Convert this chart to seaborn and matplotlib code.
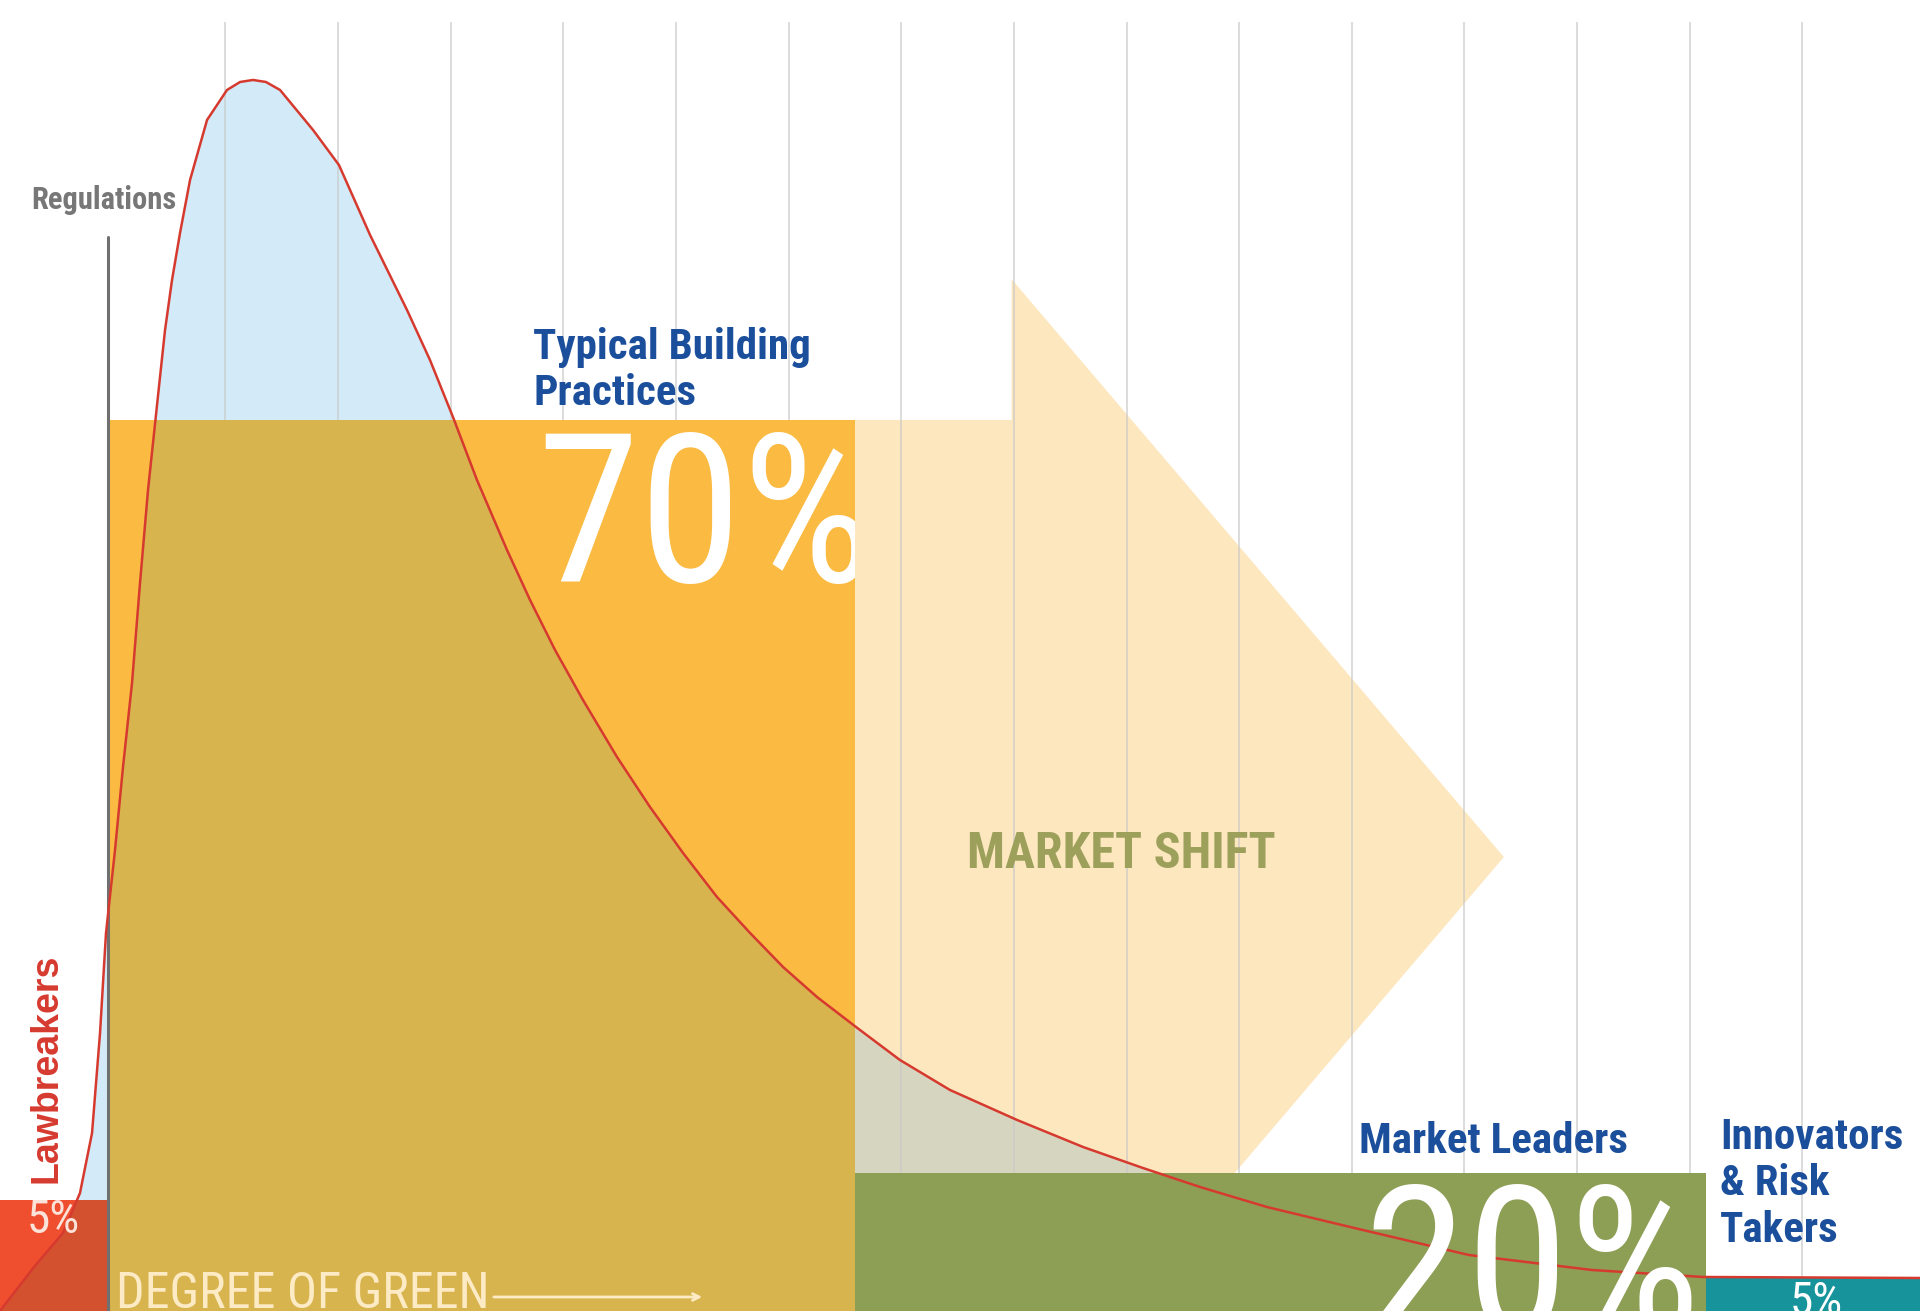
import matplotlib
matplotlib.use("Agg")
import matplotlib.pyplot as plt
from matplotlib.patches import Polygon
import pandas as pd
import seaborn as sns

# one grid column = 112.65 px on the 1920x1311 canvas; y uses the same unit
PX = 112.65
W, H = 1920, 1311

# distribution curve (grid units)
curve_x = [0.000, 0.302, 0.559, 0.710, 0.817, 0.888, 0.941, 1.021, 1.092, 1.172,
           1.243, 1.314, 1.394, 1.465, 1.527, 1.598, 1.687, 1.838, 2.015, 2.131,
           2.246, 2.361, 2.486, 2.779, 3.009, 3.285, 3.613, 3.817, 4.021, 4.234,
           4.501, 4.705, 4.927, 5.175, 5.477, 5.770, 6.063, 6.365, 6.658, 6.951,
           7.253, 7.599, 7.989, 8.433, 9.028, 9.614, 10.147, 10.652, 11.247,
           11.984, 13.040, 14.132, 15.118, 17.044]
curve_y = [0.000, 0.391, 0.692, 1.047, 1.580, 2.468, 3.356, 4.092, 4.829, 5.575,
           6.463, 7.288, 8.043, 8.708, 9.152, 9.569, 10.040, 10.573, 10.839, 10.910,
           10.928, 10.910, 10.839, 10.484, 10.173, 9.552, 8.886, 8.442, 7.936, 7.377,
           6.755, 6.312, 5.868, 5.424, 4.918, 4.474, 4.066, 3.675, 3.356, 3.054,
           2.787, 2.521, 2.228, 1.962, 1.696, 1.456, 1.269, 1.101, 0.923,
           0.746, 0.497, 0.364, 0.302, 0.293]

# market segments
groups = ["Lawbreakers", "Typical Building Practices", "Market Leaders",
          "Innovators & Risk Takers"]
shares = ["5%", "70%", "20%", "5%"]
bar_left = [0.0, 0.96, 7.59, 15.14]
bar_width = [0.96, 6.63, 7.55, 1.90]
bar_height = [0.985, 7.91, 1.225, 0.29]
bar_colors = ["#f04f2f", "#fbba42", "#8d9e55", "#17949b"]
under_colors = ["#d4512f", "#d8b44e", "#8d9e55", "#17949b"]

grid_x = list(range(2, 17))
regulation_x = 0.96
regulation_top = 9.53

# market shift arrow: shaft top/bottom, head top, tip
shift_x = [7.0, 8.98, 13.35]
shift_y = [7.91, 0.15, 9.16, 4.03]


def gx(px):
    return px / PX


def gy(py):
    return (H - py) / PX


sns.set_theme(style="white")
narrow = ["Roboto Condensed", "Liberation Sans Narrow", "DejaVu Sans Condensed",
          "Roboto", "DejaVu Sans"]
plt.rcParams["font.family"] = narrow
plt.rcParams["font.stretch"] = "condensed"

fig = plt.figure(figsize=(19.2, 13.11), dpi=100)
ax = fig.add_axes([0, 0, 1, 1])
ax.set_xlim(0, W / PX)
ax.set_ylim(0, H / PX)
ax.axis("off")

df = pd.DataFrame({"x": curve_x, "y": curve_y})

# light blue area under the curve
ax.fill_between(curve_x, 0, curve_y, color="#d3ebf8", lw=0, zorder=1)

# market shift arrow
head_bottom = shift_y[3] - (shift_y[2] - shift_y[3])
arrow = Polygon([(shift_x[0], shift_y[0]), (shift_x[1], shift_y[0]),
                 (shift_x[1], shift_y[2]), (shift_x[2], shift_y[3]),
                 (shift_x[1], head_bottom), (shift_x[1], shift_y[1]),
                 (shift_x[0], shift_y[1])],
                closed=True, fc="#fde7bf", ec="none", zorder=2)
ax.add_patch(arrow)
under = ax.fill_between(curve_x, 0, curve_y, color="#d6d6c0", lw=0, zorder=2.5)
under.set_clip_path(arrow)

ax.vlines(grid_x, 0, gy(22), color="#c9c9c9", lw=1.3, alpha=0.7, zorder=2.7)

bars = ax.bar(bar_left, bar_height, width=bar_width, align="edge",
              color=bar_colors, lw=0, zorder=3)
for patch, c in zip(bars.patches, under_colors):
    f = ax.fill_between(curve_x, 0, curve_y, color=c, lw=0, zorder=3.5)
    f.set_clip_path(patch)

ax.plot([regulation_x, regulation_x], [0, regulation_top], color="#707070",
        lw=2.2, zorder=4)

sns.lineplot(data=df, x="x", y="y", color="#d63a2f", lw=1.8, sort=False,
             estimator=None, ax=ax, zorder=5, solid_joinstyle="round")

blue = "#1b4f9c"
cream = "#fdebc6"
label_size = 31

ax.text(gx(104), gy(200), "Regulations", color="#777777", fontsize=22,
        fontweight="bold", ha="center", va="center", zorder=6)

ax.text(gx(533), gy(359), "Typical Building", color=blue, fontsize=label_size,
        fontweight="bold", ha="left", va="baseline", zorder=6)
ax.text(gx(533), gy(405), "Practices", color=blue, fontsize=label_size,
        fontweight="bold", ha="left", va="baseline", zorder=6)

t = ax.text(gx(536), gy(582), shares[1], color="white", fontsize=150,
            ha="left", va="baseline", zorder=6, clip_on=True)
t.set_clip_path(bars.patches[1])

ax.text(gx(967), gy(868), "MARKET SHIFT", color="#9ca05b", fontsize=36,
        fontweight="bold", ha="left", va="baseline", zorder=6)

ax.text(gx(47), gy(1068), groups[0], color="#d63a2f", fontsize=27,
        fontweight="bold", family="Liberation Sans", stretch="normal",
        rotation=90, ha="center", va="center", zorder=6)
t = ax.text(gx(27), gy(1233), shares[0], color="#fbe3da", fontsize=34,
            ha="left", va="baseline", zorder=6, clip_on=True)
t.set_clip_path(bars.patches[0])

ax.text(gx(116), gy(1308), "DEGREE OF GREEN", color=cream, fontsize=36,
        ha="left", va="baseline", zorder=6, clip_on=True)
ax.annotate("", xy=(gx(705), gy(1297)), xytext=(gx(491), gy(1297)),
            arrowprops=dict(arrowstyle="->", color=cream, lw=2), zorder=6)

ax.text(gx(1359), gy(1153), groups[2], color=blue, fontsize=label_size,
        fontweight="bold", ha="left", va="baseline", zorder=6)
ax.text(gx(1363), gy(1334), shares[2], color="white", fontsize=150,
        ha="left", va="baseline", zorder=6, clip_on=True)

for line, base in zip(["Innovators", "& Risk", "Takers"], [1149, 1195, 1242]):
    ax.text(gx(1720), gy(base), line, color=blue, fontsize=label_size,
            fontweight="bold", ha="left", va="baseline", zorder=6)
ax.text(gx(1790), gy(1315), shares[3], color="white", fontsize=34,
        ha="left", va="baseline", zorder=6, clip_on=True)

fig.savefig("out.png", dpi=100)
